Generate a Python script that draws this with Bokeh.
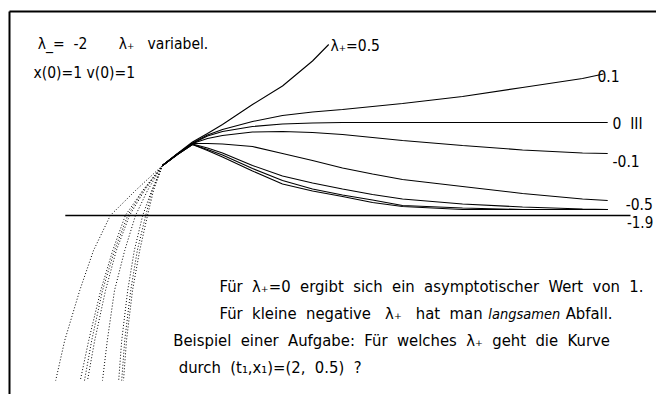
from bokeh.plotting import figure
from bokeh.models import Range1d, Label
from bokeh.embed import file_html
from bokeh.resources import INLINE

# Solutions x(t) for lambda_- = -2 and several lambda_+, x(0)=1, v(0)=1
lam_labels = ["0.5", "0.1", "0", "-0.1", "-0.5", "-1", "-1.5", "-1.9"]

# t >= 0 branch (solid)
t_pos = [0, 0.25, 0.5, 0.75, 1.0, 1.5, 2.0, 2.5, 3.0, 3.5, 4.0, 5.0, 6.0, 7.0, 7.42]
t_pos_p05 = [0, 0.25, 0.5, 0.75, 1.0, 1.5, 2.0, 2.5, 2.77]
t_pos_p01 = [0, 0.25, 0.5, 0.75, 1.0, 1.5, 2.0, 2.5, 3.0, 3.5, 4.0, 5.0, 6.0, 7.0, 7.35]
x_pos_p05 = [1.0, 1.24, 1.47, 1.64, 1.82, 2.22, 2.59, 3.09, 3.42]
x_pos_p01 = [1.0, 1.23, 1.45, 1.61, 1.72, 1.88, 2.00, 2.07, 2.12, 2.18, 2.24, 2.38, 2.56, 2.74, 2.83]
x_pos_0 = [1.0, 1.23, 1.44, 1.59, 1.68, 1.78, 1.83, 1.85, 1.86, 1.86, 1.86, 1.86, 1.86, 1.86, 1.86]
x_pos_m01 = [1.0, 1.23, 1.44, 1.54, 1.60, 1.67, 1.68, 1.66, 1.62, 1.56, 1.50, 1.40, 1.31, 1.25, 1.24]
x_pos_m05 = [1.0, 1.23, 1.44, 1.44, 1.43, 1.38, 1.24, 1.10, 0.95, 0.83, 0.72, 0.58, 0.44, 0.33, 0.30]
x_pos_m10 = [1.0, 1.23, 1.43, 1.35, 1.25, 1.00, 0.79, 0.65, 0.53, 0.42, 0.33, 0.23, 0.17, 0.13, 0.12]
x_pos_m15 = [1.0, 1.22, 1.42, 1.32, 1.21, 0.94, 0.70, 0.53, 0.41, 0.31, 0.20, 0.15, 0.12, 0.12, 0.12]
x_pos_m19 = [1.0, 1.22, 1.42, 1.30, 1.17, 0.89, 0.63, 0.49, 0.38, 0.26, 0.18, 0.12, 0.12, 0.12, 0.12]

# t <= 0 branch (dotted), sampled at common x levels
x_neg = [1.0, 0.5, 0.0, -0.7, -1.5, -2.5, -3.3]
t_neg_p05 = [0, -0.45, -0.87, -1.15, -1.38, -1.63, -1.78]
t_neg_p01 = [0, -0.33, -0.62, -0.83, -1.03, -1.23, -1.37]
t_neg_0 = [0, -0.32, -0.58, -0.80, -1.00, -1.18, -1.30]
t_neg_m01 = [0, -0.30, -0.55, -0.77, -0.95, -1.13, -1.25]
t_neg_m05 = [0, -0.25, -0.45, -0.63, -0.80, -0.92, -1.00]
t_neg_m10 = [0, -0.18, -0.33, -0.47, -0.58, -0.68, -0.73]
t_neg_m15 = [0, -0.17, -0.28, -0.42, -0.53, -0.63, -0.68]
t_neg_m19 = [0, -0.15, -0.25, -0.38, -0.50, -0.60, -0.65]

solid = [
    (t_pos_p05, x_pos_p05), (t_pos_p01, x_pos_p01), (t_pos, x_pos_0), (t_pos, x_pos_m01),
    (t_pos, x_pos_m05), (t_pos, x_pos_m10), (t_pos, x_pos_m15), (t_pos, x_pos_m19),
]
dotted = [t_neg_p05, t_neg_p01, t_neg_0, t_neg_m01, t_neg_m05, t_neg_m10, t_neg_m15, t_neg_m19]

# t axis (x = 0) extent
axis_t = [-1.62, 7.8]
axis_x = [0, 0]

FONT = "'Liberation Sans Narrow', 'DejaVu Sans Condensed', 'Liberation Sans', sans-serif"
SP = "\u00a0"

p = figure(width=656, height=394, output_backend="svg", toolbar_location=None,
           x_range=Range1d(-2.7, 8.2333), y_range=Range1d(-3.58, 4.3),
           min_border=0, outline_line_color=None, background_fill_color="white")
p.axis.visible = False
p.grid.visible = False

# frame lines (top and left)
p.line([-2.55, 8.3], [4.08, 4.08], line_color="black", line_width=2)
p.line([-2.55, -2.55], [4.08, -3.7], line_color="black", line_width=2)

p.line(axis_t, axis_x, line_color="black", line_width=1.5)

for (ts, xs), tn in zip(solid, dotted):
    p.line(ts, xs, line_color="black", line_width=1.1)
    p.line(tn, x_neg, line_color="black", line_width=1, line_dash="1 2")


def label(x, y, text, size="15.5px", style="normal", align="left"):
    p.add_layout(Label(x=x, y=y, text=text, text_font=FONT, text_font_size=size,
                       text_font_style=style, text_baseline="middle", text_align=align,
                       text_color="black"))


label(-2.08, 3.44, "λ_=" + SP * 2 + "-2")
label(-0.73, 3.44, "λ₊" + SP * 3 + "variabel.")
label(-2.15, 2.86, "x(0)=1" + SP + "v(0)=1")

label(2.8, 3.40, "λ₊=0.5")
label(7.25, 2.80, "0.1")
label(7.5, 1.84, "0" + SP * 2 + "III")
label(7.5, 1.10, "-0.1")
label(7.72, 0.24, "-0.5")
label(7.74, -0.12, "-1.9", size="15px")

BS = "16.5px"
S2 = SP * 2
S3 = SP * 3
label(0.95, -1.42, S2.join(["Für", "λ₊=0", "ergibt", "sich", "ein", "asymptotischer", "Wert", "von", "1."]), BS)
label(0.95, -1.96, "Für" + S2 + "kleine" + S2 + "negative" + S3 + "λ₊" + S3 + "hat" + S2 + "man", BS)
label(5.43, -1.96, "langsamen", "14.5px", style="italic")
label(6.72, -1.96, "Abfall.", BS)
label(0.18, -2.50, S2.join(["Beispiel", "einer", "Aufgabe:", "Für", "welches", "λ₊", "geht", "die", "Kurve"]), BS)
label(0.27, -3.04, "durch" + S2 + "(t₁,x₁)=(2," + S2 + "0.5)" + S2 + "?", BS)

open("out.html", "w").write(file_html(p, INLINE))
